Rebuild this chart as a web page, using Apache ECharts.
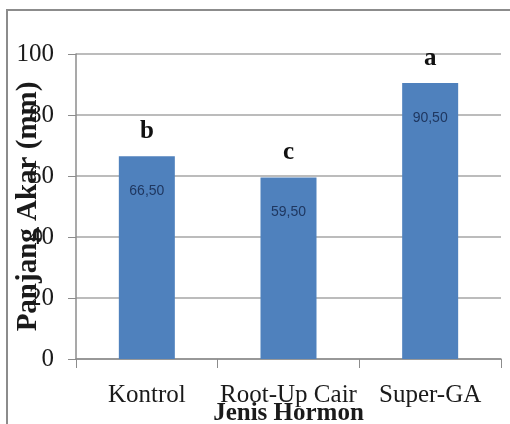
<!DOCTYPE html>
<html>
<head>
<meta charset="utf-8">
<script src="https://cdn.jsdelivr.net/npm/echarts@6/dist/echarts.min.js"></script>
<style>
  html, body { margin: 0; padding: 0; background: #fff; }
  #chart { width: 510px; height: 424px; }
</style>
</head>
<body>
<div id="chart"></div>
<script>
// data
var categories = ['Kontrol', 'Root-Up Cair', 'Super-GA'];
var panjangAkar = [66.5, 59.5, 90.5];
var notasi = ['b', 'c', 'a'];   // huruf uji lanjut di atas batang

var serif = "'Liberation Serif', 'Times New Roman', serif";
var myChart = echarts.init(document.getElementById('chart'));

myChart.setOption({
  animation: false,
  backgroundColor: '#fff',
  graphic: [{
    type: 'rect',
    shape: { x: 7, y: 10, width: 540, height: 440 },
    style: { fill: 'none', stroke: '#8c8c8c', lineWidth: 2 },
    silent: true
  }],
  grid: { left: 76, right: 9, top: 54, bottom: 65, outerBoundsMode: 'none', containLabel: false },
  xAxis: {
    type: 'category',
    data: categories,
    name: 'Jenis Hormon',
    nameLocation: 'middle',
    nameGap: 42,
    nameMoveOverlap: false,
    nameTextStyle: { fontFamily: serif, fontWeight: 'bold', fontSize: 25, color: '#1a1a1a' },
    axisLine: { lineStyle: { color: '#8c8c8c', width: 1.5 } },
    axisTick: { show: true, length: 9, lineStyle: { color: '#8c8c8c' } },
    axisLabel: { fontFamily: serif, fontSize: 25, color: '#1a1a1a', margin: 24, interval: 0, hideOverlap: false }
  },
  yAxis: {
    type: 'value',
    min: 0,
    max: 100,
    interval: 20,
    name: 'Panjang Akar (mm)',
    nameLocation: 'middle',
    nameGap: 33,
    nameRotate: 90,
    nameMoveOverlap: false,
    nameTextStyle: { fontFamily: serif, fontWeight: 'bold', fontSize: 29, color: '#1a1a1a' },
    axisLine: { show: true, lineStyle: { color: '#8c8c8c', width: 1.5 } },
    axisTick: { show: true, length: 8, lineStyle: { color: '#8c8c8c' } },
    axisLabel: { fontFamily: serif, fontSize: 25, color: '#1a1a1a', margin: 22 },
    splitLine: { show: true, lineStyle: { color: '#a6a6a6', width: 1.5 } }
  },
  series: [
    {
      name: 'Panjang Akar',
      type: 'bar',
      data: panjangAkar,
      barWidth: 56,
      itemStyle: { color: '#4f81bd' },
      label: {
        show: true,
        position: 'insideTop',
        distance: 28,
        fontFamily: "'Liberation Sans', Arial, sans-serif",
        fontSize: 14,
        color: '#1f3760',
        formatter: function (p) { return p.value.toFixed(2).replace('.', ','); }
      },
      z: 2
    },
    {
      name: 'Notasi',
      type: 'bar',
      data: panjangAkar,
      barWidth: 56,
      barGap: '-100%',
      itemStyle: { color: 'rgba(0,0,0,0)' },
      label: {
        show: true,
        position: 'top',
        distance: 12,
        fontFamily: serif,
        fontWeight: 'bold',
        fontSize: 25,
        color: '#111',
        formatter: function (p) { return notasi[p.dataIndex]; }
      },
      silent: true,
      z: 3
    }
  ]
});
window.addEventListener('resize', function () { myChart.resize(); });
</script>
</body>
</html>
